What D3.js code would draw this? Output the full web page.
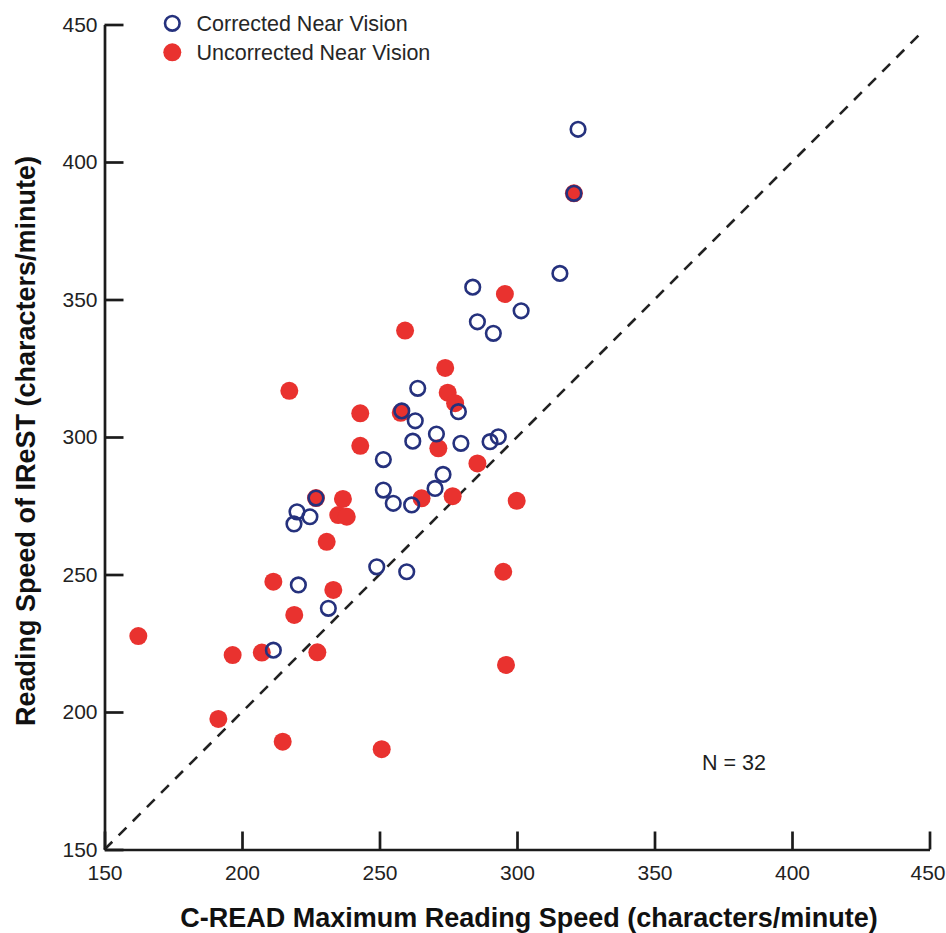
<!DOCTYPE html>
<html>
<head>
<meta charset="utf-8">
<script src="https://cdn.jsdelivr.net/npm/d3@7/dist/d3.min.js"></script>
<style>
  html, body { margin: 0; padding: 0; background: #ffffff; }
  svg { display: block; }
  text { font-family: "Liberation Sans", Arial, Helvetica, sans-serif; }
</style>
</head>
<body>
<svg id="chart" width="946" height="933"></svg>
<script>
// ---- data ----
const xTicks = [150, 200, 250, 300, 350, 400, 450];
const yTicks = [150, 200, 250, 300, 350, 400, 450];

const correctedX = [322.2, 320.7, 315.6, 283.9, 301.5, 285.6, 291.4, 263.9, 278.7, 258.1,
                    263.0, 270.7, 262.1, 279.6, 290.2, 293.2, 251.4, 273.1, 251.4, 270.2,
                    255.0, 261.7, 220.0, 224.7, 218.9, 249.0, 259.9, 220.5, 231.4, 211.4, 226.9];
const correctedY = [411.9, 388.6, 359.5, 354.5, 345.9, 341.9, 337.7, 317.7, 309.2, 309.5,
                    305.9, 301.1, 298.5, 297.7, 298.3, 300.1, 291.8, 286.4, 280.7, 281.3,
                    275.9, 275.3, 272.8, 271.0, 268.4, 252.8, 251.0, 246.2, 237.7, 222.5, 277.8];

const uncorrectedX = [320.7, 295.6, 259.3, 273.9, 217.2, 274.8, 277.5, 243.0, 257.7, 271.4,
                      243.0, 285.6, 265.3, 276.6, 299.9, 235.0, 238.1, 230.8, 295.0, 211.4,
                      233.2, 219.0, 162.3, 196.6, 207.2, 227.4, 191.4, 214.8, 250.8, 296.0,
                      236.7, 226.9];
const uncorrectedY = [388.6, 352.0, 338.7, 325.1, 316.8, 316.1, 312.3, 308.6, 308.8, 295.9,
                      296.8, 290.4, 277.7, 278.5, 276.8, 271.6, 271.0, 261.9, 251.0, 247.4,
                      244.4, 235.3, 227.6, 220.7, 221.6, 221.7, 197.5, 189.2, 186.5, 217.1,
                      277.5, 277.8];

const identityLine = [150, 447];
const seriesNames = ["Corrected Near Vision", "Uncorrected Near Vision"];
const xTitle = "C-READ Maximum Reading Speed (characters/minute)";
const yTitle = "Reading Speed of IReST (characters/minute)";
const noteText = "N = 32";

// ---- layout ----
const svg = d3.select("#chart");
const x = d3.scaleLinear().domain([150, 450]).range([104.5, 929.5]);
const y = d3.scaleLinear().domain([150, 450]).range([849.5, 24.5]);

const navy = "#25317d";
const red = "#e9322f";
const ink = "#1b1b1b";

// identity (dashed) line
svg.append("line")
  .attr("x1", x(identityLine[0])).attr("y1", y(identityLine[0]))
  .attr("x2", x(identityLine[1])).attr("y2", y(identityLine[1]))
  .attr("stroke", "#222").attr("stroke-width", 2.6)
  .attr("stroke-dasharray", "11,9");

// axes
const xAxis = d3.axisBottom(x).tickValues(xTicks).tickSizeInner(-18).tickSizeOuter(0).tickPadding(16);
const yAxis = d3.axisLeft(y).tickValues(yTicks).tickSizeInner(-19).tickSizeOuter(0).tickPadding(7);

const gx = svg.append("g").attr("transform", `translate(0,${y(150)})`).call(xAxis);
const gy = svg.append("g").attr("transform", `translate(${x(150)},0)`).call(yAxis);

[gx, gy].forEach(g => {
  g.select(".domain").attr("stroke", ink).attr("stroke-width", 2.7);
  g.selectAll(".tick line").attr("stroke", ink).attr("stroke-width", 2.7);
  g.selectAll(".tick text").attr("fill", "#222").attr("font-size", 21)
    .style("font-family", '"Liberation Sans", Arial, sans-serif');
});

// keep the last x tick label inside the frame
gx.selectAll(".tick text").filter(d => d === xTicks[xTicks.length - 1])
  .attr("text-anchor", "end").attr("x", 945 - x(xTicks[xTicks.length - 1]));

// uncorrected (filled red) drawn first
const uData = uncorrectedX.map((v, i) => ({ x: v, y: uncorrectedY[i] }));
const cData = correctedX.map((v, i) => ({ x: v, y: correctedY[i] }));

svg.append("g").selectAll("circle").data(uData).join("circle")
  .attr("cx", d => x(d.x)).attr("cy", d => y(d.y))
  .attr("r", 9).attr("fill", red);

// corrected (open navy) on top
svg.append("g").selectAll("circle").data(cData).join("circle")
  .attr("cx", d => x(d.x)).attr("cy", d => y(d.y))
  .attr("r", 7.3).attr("fill", "none").attr("stroke", navy).attr("stroke-width", 2.6);

// legend
const legend = svg.append("g");
legend.append("circle").attr("cx", 172.3).attr("cy", 23.3).attr("r", 7.3)
  .attr("fill", "none").attr("stroke", navy).attr("stroke-width", 2.6);
legend.append("circle").attr("cx", 172.3).attr("cy", 52.3).attr("r", 9).attr("fill", red);
legend.append("text").attr("x", 196.5).attr("y", 31.3).attr("font-size", 21.5)
  .attr("fill", "#262626").text(seriesNames[0]);
legend.append("text").attr("x", 196.5).attr("y", 60.3).attr("font-size", 21.5)
  .attr("fill", "#262626").text(seriesNames[1]);

// N annotation
svg.append("text").attr("x", 734).attr("y", 769.5).attr("text-anchor", "middle")
  .attr("font-size", 21.5).attr("fill", "#1e1e1e").text(noteText);

// axis titles
svg.append("text").attr("x", 529).attr("y", 927).attr("text-anchor", "middle")
  .attr("font-size", 27).attr("font-weight", "bold").attr("fill", "#111").text(xTitle);

svg.append("text").attr("transform", `translate(35,441) rotate(-90)`)
  .attr("text-anchor", "middle")
  .attr("font-size", 27).attr("font-weight", "bold").attr("fill", "#111").text(yTitle);
</script>
</body>
</html>
